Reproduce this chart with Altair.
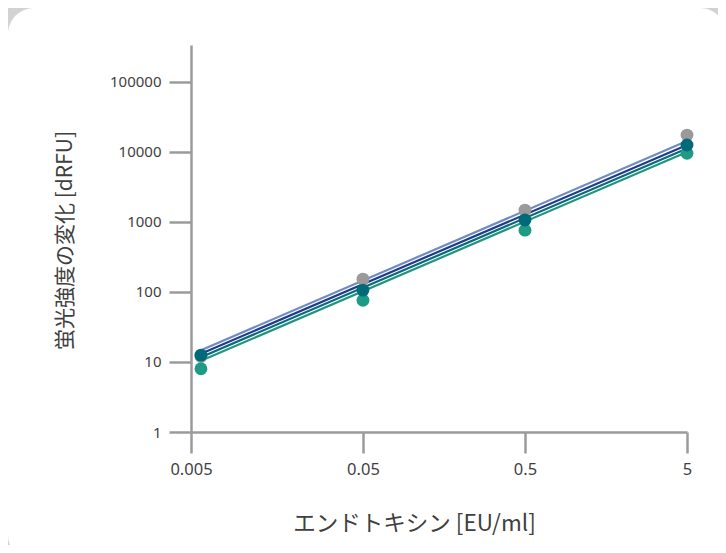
import altair as alt
import pandas as pd

# --- data ---
conc = [0.005, 0.05, 0.5, 5]
point_series = ["gray", "green", "teal"]
gray_pts = [12, 152, 1470, 17300]
green_pts = [8.0, 76, 760, 9500]
teal_pts = [12.5, 106, 1060, 12500]

line_conc = [0.005, 5]
line_series = ["lightblue", "navy", "teal", "green"]
lightblue_line = [14.7, 14200]
navy_line = [13.1, 12500]
teal_line = [11.7, 11100]
green_line = [10.4, 9900]

x_ticks = [0.00434, 0.05, 0.5, 5]
y_ticks = [1, 10, 100, 1000, 10000, 100000]

# --- tables ---
pts_rows = []
for order, (name, vals) in enumerate(zip(point_series, [gray_pts, green_pts, teal_pts])):
    for c, v in zip(conc, vals):
        pts_rows.append({"series": name, "conc": c, "val": v, "ord": order})
pts = pd.DataFrame(pts_rows)

line_rows = []
for name, vals in zip(line_series, [lightblue_line, navy_line, teal_line, green_line]):
    for c, v in zip(line_conc, vals):
        line_rows.append({"series": name, "conc": c, "val": v})
lines = pd.DataFrame(line_rows)

W, H = 496, 387
PL, PT = 183, 37
TOTAL_W, TOTAL_H = 710, 537

axis_col = "#9b9b9b"
text_col = "#3f3f3f"

x_scale = alt.Scale(type="log", domain=[0.00434, 5], nice=False)
y_scale = alt.Scale(type="log", domain=[1, 334000], nice=False)

x_axis = alt.Axis(
    values=x_ticks, format="~g",
    labelExpr="datum.value < 0.005 ? '0.005' : datum.label",
    labelFlush=False, labelFontSize=16.5, labelPadding=8,
    title="エンドトキシン [EU/ml]", titleX=223, titleY=91, titleBaseline="middle",
    titleAlign="center", titleAngle=0, titleFontSize=22.5,
    tickSize=21, grid=False, zindex=1,
)
y_axis = alt.Axis(
    values=y_ticks, format="d", labelFontSize=15,
    title="蛍光強度の変化 [dRFU]", titleX=-126, titleY=195, titleBaseline="middle",
    titleAlign="center", titleAngle=-90, titleFontSize=21,
    tickSize=22, labelPadding=8, grid=False, zindex=1,
)

card = alt.Chart(pd.DataFrame({"a": [0]})).mark_rect(
    fill="white", cornerRadius=26
).encode(
    x=alt.value(-PL), x2=alt.value(TOTAL_W - PL + 8),
    y=alt.value(-PT), y2=alt.value(TOTAL_H - PT + 16),
)

line_layer = alt.Chart(lines).mark_line(strokeWidth=2.2).encode(
    x=alt.X("conc:Q", scale=x_scale, axis=x_axis),
    y=alt.Y("val:Q", scale=y_scale, axis=y_axis),
    color=alt.Color("series:N", legend=None, scale=alt.Scale(
        domain=line_series, range=["#6f8cc2", "#1f3b8c", "#0b6a78", "#1f9580"])),
    detail="series:N",
)

point_layer = alt.Chart(pts).mark_circle(size=165, opacity=1).encode(
    x=alt.X("conc:Q", scale=x_scale, axis=x_axis),
    y=alt.Y("val:Q", scale=y_scale, axis=y_axis),
    fill=alt.Fill("series:N", legend=None, scale=alt.Scale(
        domain=point_series, range=["#9a9a9a", "#1f9a84", "#006a78"])),
    order="ord:Q",
)

chart = alt.layer(card, line_layer, point_layer).resolve_scale(
    color="independent", fill="independent"
).properties(
    width=W, height=H,
    autosize=alt.AutoSizeParams(type="none"),
    padding={"left": PL, "top": PT, "right": TOTAL_W - PL - W, "bottom": TOTAL_H - PT - H},
    background="#d0d2d3",
).configure_view(stroke=None).configure_axis(
    domainColor=axis_col, domainWidth=2.5, tickColor=axis_col, tickWidth=2.5,
    labelFont="Noto Sans", labelColor=text_col,
    titleFont="Noto Sans CJK JP", titleFontWeight="normal", titleColor=text_col,
)

chart.save("out.html", embed_options={"renderer": "svg", "actions": False})
